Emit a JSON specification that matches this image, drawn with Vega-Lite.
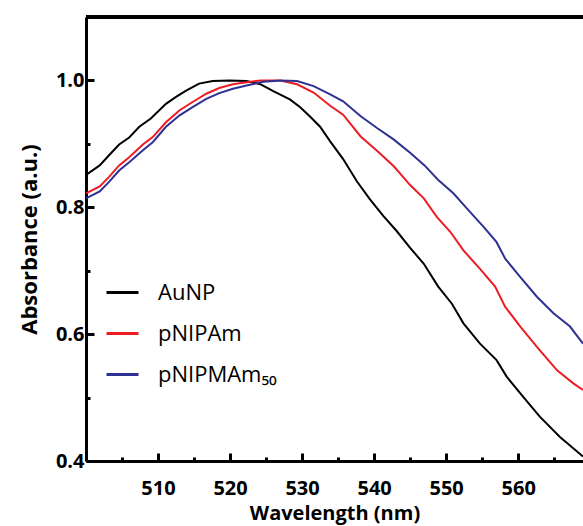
{
  "$schema": "https://vega.github.io/schema/vega-lite/v6.json",
  "width": 497,
  "height": 444,
  "autosize": {"type": "none"},
  "padding": {"left": 86, "top": 17, "right": 0, "bottom": 65},
  "background": "white",
  "config": {"view": {"stroke": null}, "axis": {"ticks": true}},
  "data": {"values": [
    {"wl": 500, "abs": 0.851, "sample": "AuNP"},
    {"wl": 501.9, "abs": 0.866, "sample": "AuNP"},
    {"wl": 503.2, "abs": 0.882, "sample": "AuNP"},
    {"wl": 504.6, "abs": 0.899, "sample": "AuNP"},
    {"wl": 506, "abs": 0.910, "sample": "AuNP"},
    {"wl": 507.4, "abs": 0.927, "sample": "AuNP"},
    {"wl": 509, "abs": 0.940, "sample": "AuNP"},
    {"wl": 511.1, "abs": 0.963, "sample": "AuNP"},
    {"wl": 512.5, "abs": 0.974, "sample": "AuNP"},
    {"wl": 513.9, "abs": 0.984, "sample": "AuNP"},
    {"wl": 515.7, "abs": 0.995, "sample": "AuNP"},
    {"wl": 517.6, "abs": 0.999, "sample": "AuNP"},
    {"wl": 519.9, "abs": 1.0, "sample": "AuNP"},
    {"wl": 522.3, "abs": 0.999, "sample": "AuNP"},
    {"wl": 524.2, "abs": 0.994, "sample": "AuNP"},
    {"wl": 526, "abs": 0.983, "sample": "AuNP"},
    {"wl": 528.3, "abs": 0.970, "sample": "AuNP"},
    {"wl": 529.7, "abs": 0.958, "sample": "AuNP"},
    {"wl": 531.1, "abs": 0.943, "sample": "AuNP"},
    {"wl": 532.5, "abs": 0.927, "sample": "AuNP"},
    {"wl": 533.9, "abs": 0.904, "sample": "AuNP"},
    {"wl": 535.7, "abs": 0.876, "sample": "AuNP"},
    {"wl": 537.6, "abs": 0.841, "sample": "AuNP"},
    {"wl": 539.4, "abs": 0.813, "sample": "AuNP"},
    {"wl": 541.3, "abs": 0.786, "sample": "AuNP"},
    {"wl": 543.1, "abs": 0.763, "sample": "AuNP"},
    {"wl": 545, "abs": 0.736, "sample": "AuNP"},
    {"wl": 546.9, "abs": 0.711, "sample": "AuNP"},
    {"wl": 548.9, "abs": 0.675, "sample": "AuNP"},
    {"wl": 550.8, "abs": 0.648, "sample": "AuNP"},
    {"wl": 552.4, "abs": 0.617, "sample": "AuNP"},
    {"wl": 554.7, "abs": 0.585, "sample": "AuNP"},
    {"wl": 557, "abs": 0.559, "sample": "AuNP"},
    {"wl": 558.4, "abs": 0.533, "sample": "AuNP"},
    {"wl": 560.7, "abs": 0.501, "sample": "AuNP"},
    {"wl": 563, "abs": 0.470, "sample": "AuNP"},
    {"wl": 565.8, "abs": 0.438, "sample": "AuNP"},
    {"wl": 569, "abs": 0.407, "sample": "AuNP"},

    {"wl": 500, "abs": 0.822, "sample": "pNIPAm"},
    {"wl": 501.9, "abs": 0.833, "sample": "pNIPAm"},
    {"wl": 503.2, "abs": 0.848, "sample": "pNIPAm"},
    {"wl": 504.6, "abs": 0.866, "sample": "pNIPAm"},
    {"wl": 506, "abs": 0.879, "sample": "pNIPAm"},
    {"wl": 507.9, "abs": 0.899, "sample": "pNIPAm"},
    {"wl": 509.3, "abs": 0.911, "sample": "pNIPAm"},
    {"wl": 511.1, "abs": 0.934, "sample": "pNIPAm"},
    {"wl": 513, "abs": 0.953, "sample": "pNIPAm"},
    {"wl": 514.8, "abs": 0.966, "sample": "pNIPAm"},
    {"wl": 516.7, "abs": 0.979, "sample": "pNIPAm"},
    {"wl": 518.5, "abs": 0.988, "sample": "pNIPAm"},
    {"wl": 520.4, "abs": 0.994, "sample": "pNIPAm"},
    {"wl": 522.3, "abs": 0.997, "sample": "pNIPAm"},
    {"wl": 524.2, "abs": 1.0, "sample": "pNIPAm"},
    {"wl": 527, "abs": 1.0, "sample": "pNIPAm"},
    {"wl": 529.3, "abs": 0.994, "sample": "pNIPAm"},
    {"wl": 531.6, "abs": 0.981, "sample": "pNIPAm"},
    {"wl": 533.9, "abs": 0.960, "sample": "pNIPAm"},
    {"wl": 535.7, "abs": 0.946, "sample": "pNIPAm"},
    {"wl": 538.1, "abs": 0.912, "sample": "pNIPAm"},
    {"wl": 540.4, "abs": 0.889, "sample": "pNIPAm"},
    {"wl": 542.7, "abs": 0.865, "sample": "pNIPAm"},
    {"wl": 545, "abs": 0.835, "sample": "pNIPAm"},
    {"wl": 546.9, "abs": 0.814, "sample": "pNIPAm"},
    {"wl": 548.7, "abs": 0.785, "sample": "pNIPAm"},
    {"wl": 550.6, "abs": 0.761, "sample": "pNIPAm"},
    {"wl": 552.4, "abs": 0.732, "sample": "pNIPAm"},
    {"wl": 554.7, "abs": 0.703, "sample": "pNIPAm"},
    {"wl": 556.8, "abs": 0.675, "sample": "pNIPAm"},
    {"wl": 558.2, "abs": 0.643, "sample": "pNIPAm"},
    {"wl": 560.3, "abs": 0.612, "sample": "pNIPAm"},
    {"wl": 562.6, "abs": 0.580, "sample": "pNIPAm"},
    {"wl": 565.4, "abs": 0.543, "sample": "pNIPAm"},
    {"wl": 567.7, "abs": 0.522, "sample": "pNIPAm"},
    {"wl": 569, "abs": 0.512, "sample": "pNIPAm"},

    {"wl": 500, "abs": 0.814, "sample": "pNIPMAm₅₀"},
    {"wl": 501.9, "abs": 0.825, "sample": "pNIPMAm₅₀"},
    {"wl": 503.2, "abs": 0.840, "sample": "pNIPMAm₅₀"},
    {"wl": 504.6, "abs": 0.858, "sample": "pNIPMAm₅₀"},
    {"wl": 506, "abs": 0.871, "sample": "pNIPMAm₅₀"},
    {"wl": 507.9, "abs": 0.890, "sample": "pNIPMAm₅₀"},
    {"wl": 509.3, "abs": 0.903, "sample": "pNIPMAm₅₀"},
    {"wl": 511.1, "abs": 0.927, "sample": "pNIPMAm₅₀"},
    {"wl": 513, "abs": 0.945, "sample": "pNIPMAm₅₀"},
    {"wl": 514.8, "abs": 0.958, "sample": "pNIPMAm₅₀"},
    {"wl": 516.7, "abs": 0.971, "sample": "pNIPMAm₅₀"},
    {"wl": 518.5, "abs": 0.980, "sample": "pNIPMAm₅₀"},
    {"wl": 520.4, "abs": 0.987, "sample": "pNIPMAm₅₀"},
    {"wl": 522.3, "abs": 0.992, "sample": "pNIPMAm₅₀"},
    {"wl": 524.6, "abs": 0.998, "sample": "pNIPMAm₅₀"},
    {"wl": 527, "abs": 1.0, "sample": "pNIPMAm₅₀"},
    {"wl": 529.3, "abs": 0.999, "sample": "pNIPMAm₅₀"},
    {"wl": 531.6, "abs": 0.991, "sample": "pNIPMAm₅₀"},
    {"wl": 533.9, "abs": 0.978, "sample": "pNIPMAm₅₀"},
    {"wl": 535.7, "abs": 0.967, "sample": "pNIPMAm₅₀"},
    {"wl": 538.1, "abs": 0.944, "sample": "pNIPMAm₅₀"},
    {"wl": 540.4, "abs": 0.925, "sample": "pNIPMAm₅₀"},
    {"wl": 542.7, "abs": 0.907, "sample": "pNIPMAm₅₀"},
    {"wl": 545, "abs": 0.886, "sample": "pNIPMAm₅₀"},
    {"wl": 547, "abs": 0.866, "sample": "pNIPMAm₅₀"},
    {"wl": 548.9, "abs": 0.843, "sample": "pNIPMAm₅₀"},
    {"wl": 551, "abs": 0.822, "sample": "pNIPMAm₅₀"},
    {"wl": 552.9, "abs": 0.798, "sample": "pNIPMAm₅₀"},
    {"wl": 555.2, "abs": 0.769, "sample": "pNIPMAm₅₀"},
    {"wl": 557, "abs": 0.745, "sample": "pNIPMAm₅₀"},
    {"wl": 558.2, "abs": 0.719, "sample": "pNIPMAm₅₀"},
    {"wl": 560.3, "abs": 0.690, "sample": "pNIPMAm₅₀"},
    {"wl": 562.6, "abs": 0.659, "sample": "pNIPMAm₅₀"},
    {"wl": 564.9, "abs": 0.633, "sample": "pNIPMAm₅₀"},
    {"wl": 567.2, "abs": 0.612, "sample": "pNIPMAm₅₀"},
    {"wl": 569, "abs": 0.585, "sample": "pNIPMAm₅₀"}
  ]},
  "layer": [
    {
      "mark": {"type": "line", "strokeWidth": 2, "clip": true},
      "encoding": {
        "x": {
          "field": "wl", "type": "quantitative",
          "scale": {"domain": [500, 569], "nice": false, "zero": false},
          "axis": {
            "title": "Wavelength (nm)",
            "titleFont": "Open Sans", "titleFontSize": 20, "titleFontWeight": "bold", "titleColor": "black", "titlePadding": 5,
            "values": [505, 510, 515, 520, 525, 530, 535, 540, 545, 550, 555, 560, 565],
            "labelExpr": "datum.value % 10 === 0 ? datum.label : ''",
            "labelFont": "Open Sans", "labelFontSize": 20, "labelFontWeight": "bold", "labelColor": "black",
            "labelPadding": 25,
            "domainColor": "black", "domainWidth": 3,
            "ticks": true,
            "tickColor": "black", "tickWidth": 3, "tickOpacity": 1,
            "tickSize": {"condition": {"test": "datum.value % 10 === 0", "value": -8}, "value": -4},
            "grid": false
          }
        },
        "y": {
          "field": "abs", "type": "quantitative",
          "scale": {"domain": [0.4, 1.1], "nice": false, "zero": false},
          "axis": {
            "title": "Absorbance (a.u.)",
            "titleFont": "Open Sans", "titleFontSize": 22, "titleFontWeight": "bold", "titleColor": "black", "titlePadding": 14,
            "values": [0.4, 0.5, 0.6, 0.7, 0.8, 0.9, 1.0],
            "format": ".1f",
            "labelExpr": "(datum.value == 0.5 || datum.value == 0.7 || datum.value == 0.9) ? '' : datum.label",
            "labelFont": "Open Sans", "labelFontSize": 20, "labelFontWeight": "bold", "labelColor": "black",
            "labelPadding": 10,
            "domainColor": "black", "domainWidth": 3,
            "ticks": true,
            "tickColor": "black", "tickWidth": 3, "tickOpacity": 1,
            "tickSize": {"condition": {"test": "datum.value == 0.5 || datum.value == 0.7 || datum.value == 0.9", "value": -4}, "value": -8},
            "grid": false
          }
        },
        "color": {
          "field": "sample", "type": "nominal",
          "scale": {"domain": ["AuNP", "pNIPAm", "pNIPMAm₅₀"], "range": ["#000000", "#ed1c24", "#2e3192"]},
          "legend": {
            "title": null,
            "orient": "none",
            "legendX": 19,
            "legendY": 258,
            "symbolType": "stroke",
            "symbolSize": 1024,
            "symbolStrokeWidth": 3,
            "labelFont": "Open Sans", "labelFontSize": 22, "labelColor": "black",
            "labelOffset": 18,
            "rowPadding": 12
          }
        }
      }
    },
    {
      "mark": {"type": "rule", "color": "black", "strokeWidth": 3},
      "encoding": {"y": {"datum": 1.1}}
    }
  ]
}
